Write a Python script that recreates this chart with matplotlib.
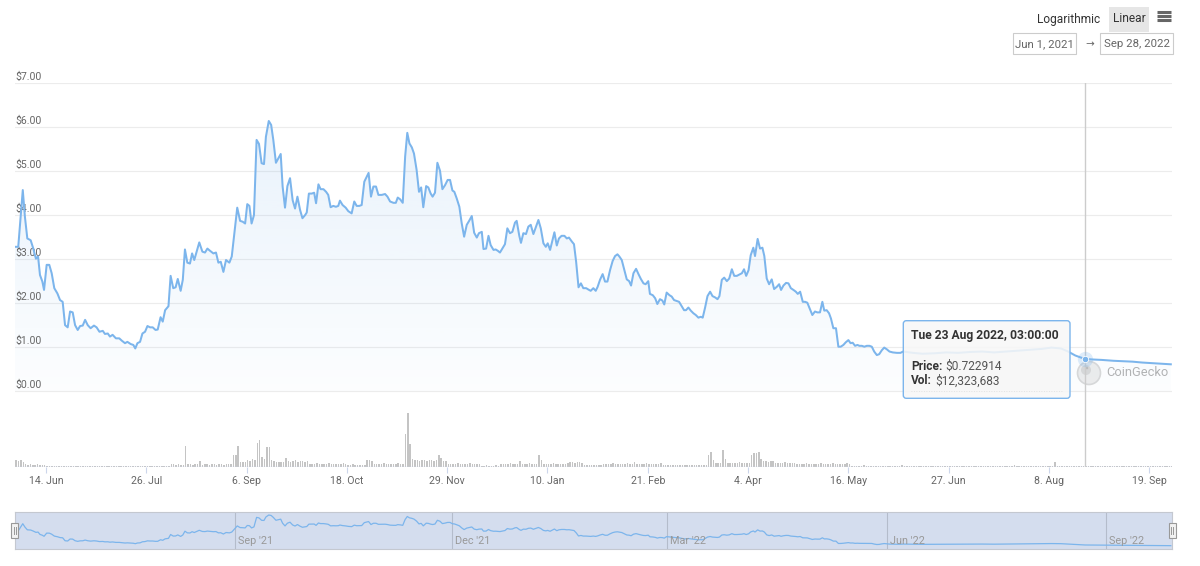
import numpy as np
import pandas as pd
import matplotlib
matplotlib.use("Agg")
import matplotlib.pyplot as plt
import matplotlib.dates as mdates
import matplotlib.transforms as mtransforms
from matplotlib.patches import FancyBboxPatch, Rectangle, Circle, PathPatch

plt.rcParams['font.family'] = ['Roboto', 'DejaVu Sans']
plt.rcParams['text.parse_math'] = False

# ---------------- data ----------------
START = '2021-06-01'
END_DAY = 484.5

price_days = [
    0, 1.4, 3.3, 4.2, 5.2, 6.6, 7.7, 8.8, 9.7, 10.5, 11.5, 12.2, 13.3, 14.4, 15.4, 16.5, 17.8, 18.9, 20.0, 21.0,
    22.1, 23.1, 24.2, 25.2, 26.3, 27.3, 28.4, 29.4, 30.5, 31.7, 33.1, 34.2, 35.4, 36.8, 37.7, 38.9, 39.8, 40.9, 42.3, 43.7,
    44.7, 46.1, 47.1, 48.5, 49.6, 50.4, 51.3, 52.4, 53.4, 54.5, 55.5, 56.6, 57.7, 58.9, 59.8, 61.0, 61.9, 62.9, 64.3, 65.2,
    66.3, 67.3, 68.2, 69.4, 70.3, 71.2, 72.2, 73.3, 74.2, 75.1, 76.1, 77.2, 78.5, 79.6, 80.6, 81.7,
    83.1, 84.2, 85.2, 86.2, 87.3, 88.4, 89.8, 90.8, 91.9, 93.1, 94.3, 95.4, 96.4, 97.3, 98.2, 99.1, 100.1, 101.2, 102.2, 103.3,
    104.3, 105.1, 106.3, 107.3, 108.2, 109.3, 110.3, 111.3, 112.1, 113.1, 114.1, 115.2, 116.3, 117.3, 118.3, 119.4, 120.4, 121.5, 122.2, 123.1,
    124.3, 125.3, 126.1, 127.1, 128.0, 129.2, 130.3, 131.2, 132.2, 133.3, 134.4, 135.4, 136.1, 137.2, 138.5, 139.6, 141.0, 142.1, 143.1, 144.2,
    145.2, 146.3, 147.3, 148.1, 149.1, 150.1, 151.2, 152.2, 153.6, 155.0, 156.0, 157.1, 158.5, 159.5, 160.3, 161.3,
    162.4, 163.4, 164.3, 165.2, 166.2, 167.1, 168.2, 169.2, 170.1, 171.0, 172.2, 173.1, 174.1, 174.9, 175.9, 176.9, 178.0, 179.0, 180.1, 181.2,
    182.2, 183.2, 184.0, 185.0, 186.1, 187.1, 188.1, 189.2, 190.2, 191.3, 192.3, 193.4, 194.3, 195.5, 196.2, 197.3, 198.3, 199.2, 200.4, 201.3,
    202.2, 203.1, 204.1, 205.2, 206.2, 207.3, 208.3, 209.4, 210.1, 211.2, 211.9, 212.9, 214.0, 215.0, 216.0, 217.1, 218.2, 219.2, 220.2, 221.3,
    222.3, 223.1, 224.1, 225.1, 225.9, 226.9, 227.8, 228.9, 230.1, 231.1, 232.0, 233.2, 234.1, 235.0, 236.0, 237.0, 238.0, 239.2, 240.1, 241.1,
    242.2, 243.2, 244.0, 245.0,
    246.1, 247.1, 248.1, 249.2, 250.3, 251.3, 252.3, 253.1, 254.1, 255.1, 256.2, 257.2, 258.0, 259.0, 260.1, 261.1, 262.1, 263.2, 264.1, 265.2,
    265.9, 267.1, 268.1, 269.0, 270.1, 271.1, 271.9, 272.9, 274.1, 275.0, 276.0, 277.1, 278.1, 279.2, 280.2, 281.0, 282.0, 283.0, 284.1, 285.1,
    286.2, 287.2, 288.0, 289.0, 290.0, 291.1, 292.1, 293.2, 294.2, 295.0, 296.0, 297.0, 298.1, 299.1, 300.2, 301.2, 302.3, 303.4, 304.4, 305.3,
    306.2, 307.2, 308.1, 309.2, 309.9, 311.0, 312.0, 313.0, 313.8, 314.8, 315.8, 316.9, 317.9, 319.0, 320.0, 320.8, 321.8, 322.9, 323.9, 324.9,
    326.0, 327.0, 327.8, 328.8,
    329.9, 330.9, 331.8, 332.9, 333.9, 335.0, 336.0, 337.1, 338.1, 338.9, 339.9, 340.9, 341.7, 342.7, 343.8, 344.8, 345.8, 346.9, 347.9, 349.0,
    349.9, 350.8, 351.8, 352.8, 353.6, 354.6, 355.7, 356.7, 357.8, 358.8, 359.8, 360.9, 361.9, 363.0, 364.0, 365.1, 366.2, 367.6, 369.3, 370.8,
    371.9, 376, 380, 385, 390, 395, 400, 405, 410, 415, 420, 425, 430, 434, 438, 441, 444, 446, 448.125, 451,
    455, 460, 464, 468, 472, 478, 484,
]

price_usd = [
    3.27, 3.27, 4.56, 3.95, 3.46, 3.42, 3.23, 3.00, 3.05, 2.63, 2.48, 2.29, 2.86, 2.86, 2.67, 2.33, 2.21, 2.06, 2.02, 1.49,
    1.44, 1.80, 1.78, 1.49, 1.38, 1.47, 1.48, 1.61, 1.49, 1.42, 1.48, 1.44, 1.34, 1.36, 1.29, 1.30, 1.23, 1.27, 1.19, 1.19,
    1.14, 1.08, 1.11, 1.06, 1.04, 0.96, 1.08, 1.11, 1.30, 1.34, 1.47, 1.44, 1.44, 1.38, 1.39, 1.67, 1.57, 1.83, 1.92, 2.61,
    2.33, 2.35, 2.54, 2.27, 2.52, 3.21, 2.91, 2.89, 3.12, 2.97, 3.16, 3.37, 3.16, 3.14, 3.23, 3.18,
    3.12, 3.14, 2.91, 2.93, 2.70, 2.97, 2.91, 3.05, 3.58, 4.16, 3.86, 3.84, 3.80, 4.24, 4.20, 3.80, 3.99, 5.70, 5.61, 5.17,
    5.15, 5.77, 6.13, 6.04, 5.70, 5.18, 5.28, 5.38, 4.64, 4.16, 4.65, 4.83, 4.33, 4.14, 4.41, 4.11, 3.92, 3.99, 4.05, 4.48,
    4.48, 4.50, 4.26, 4.69, 4.58, 4.58, 4.52, 4.45, 4.17, 4.20, 4.18, 4.20, 4.32, 4.22, 4.16, 4.08, 4.03, 4.30, 4.20, 4.20,
    4.22, 4.75, 4.86, 4.95, 4.41, 4.64, 4.64, 4.45, 4.45, 4.47, 4.41, 4.30, 4.27, 4.27, 4.39, 4.35,
    4.27, 5.32, 5.86, 5.62, 5.53, 5.39, 5.02, 4.52, 4.62, 4.17, 4.65, 4.62, 4.48, 4.41, 4.50, 5.18, 5.00, 4.58, 4.67, 4.79,
    4.79, 4.55, 4.52, 4.37, 4.18, 3.80, 3.50, 3.77, 3.86, 3.97, 3.59, 3.48, 3.58, 3.61, 3.22, 3.23, 3.52, 3.31, 3.20, 3.21,
    3.18, 3.14, 3.23, 3.33, 3.69, 3.58, 3.61, 3.82, 3.86, 3.52, 3.36, 3.58, 3.56, 3.73, 3.77, 3.56, 3.73, 3.88, 3.69, 3.35,
    3.27, 3.35, 3.20, 3.42, 3.60, 3.30, 3.46, 3.52, 3.52, 3.46, 3.48, 3.39, 3.33, 2.93, 2.35, 2.44, 2.33, 2.33, 2.30, 2.27,
    2.33, 2.27, 2.36, 2.52,
    2.65, 2.48, 2.48, 2.74, 2.95, 3.06, 3.10, 3.05, 2.97, 2.76, 2.53, 2.49, 2.39, 2.67, 2.77, 2.65, 2.54, 2.44, 2.42, 2.49,
    2.20, 2.17, 2.10, 1.97, 2.08, 2.05, 1.96, 2.23, 2.17, 2.14, 2.06, 2.04, 2.02, 1.92, 1.83, 1.83, 1.89, 1.82, 1.76, 1.72,
    1.66, 1.68, 1.66, 1.89, 2.15, 2.25, 2.15, 2.12, 2.08, 2.15, 2.52, 2.57, 2.49, 2.55, 2.76, 2.61, 2.61, 2.64, 2.67, 2.76,
    2.61, 2.74, 3.08, 3.25, 3.06, 3.45, 3.23, 3.25, 3.06, 2.55, 2.42, 2.53, 2.31, 2.36, 2.42, 2.29, 2.39, 2.45, 2.44, 2.33,
    2.29, 2.25, 2.20, 2.25,
    2.02, 2.02, 2.00, 1.85, 1.72, 1.80, 1.78, 1.78, 2.02, 1.82, 1.83, 1.76, 1.64, 1.42, 1.42, 1.00, 1.00, 1.04, 1.10, 1.15,
    1.08, 1.09, 1.02, 1.04, 1.02, 1.02, 1.00, 1.02, 1.02, 1.00, 0.89, 0.81, 0.83, 0.92, 0.98, 0.94, 0.89, 0.87, 0.86, 0.86,
    0.89, 0.86, 0.84, 0.85, 0.87, 0.86, 0.88, 0.89, 0.87, 0.89, 0.91, 0.93, 0.95, 0.98, 0.96, 0.89, 0.80, 0.76, 0.722914, 0.71,
    0.70, 0.68, 0.67, 0.66, 0.64, 0.62, 0.60,
]

# daily volume (million USD), segments given as (first day, values)
volume_segments = [
    (0, [42, 36, 42, 30, 18, 12, 18, 12, 12, 18, 12, 12, 12, 6]),
    (14, [6, 4, 3, 2, 3, 2, 5, 3, 2, 4, 6, 5, 3, 2, 3, 2, 3, 4, 2, 3, 2, 2, 3, 2, 2, 3, 2, 2, 3, 2,
          3, 2, 2, 3, 2, 2, 3, 2, 3, 2, 2, 3, 2, 3, 4, 3, 2, 3, 4, 5, 6]),
    (65, [18, 15, 12, 18, 12, 12]),
    (71, [126]),
    (72, [18, 15, 12, 18, 15, 36]),
    (78, [12, 15, 18, 12, 15, 18, 12, 18, 15, 12, 18, 15, 18]),
    (91, [72, 72, 126]),
    (94, [30, 30, 30]),
    (97, [42, 36, 48, 42, 144, 162, 60, 48, 120, 120, 42, 36]),
    (109, [30, 30, 30, 30, 54]),
    (114, [36, 30, 36, 42, 30, 36, 36, 30, 36]),
    (123, [18, 15, 18, 21, 18, 15, 18, 18, 21, 15, 18, 18, 15, 18, 21, 18]),
    (139, [12, 12, 15, 12, 12, 9, 12, 12]),
    (147, [42, 42, 36]),
    (150, [18, 15, 18, 18, 21, 15, 18, 18, 15, 18, 21, 18, 15]),
    (163, [198, 324, 138, 48]),
    (167, [42, 42, 36, 42, 42, 36, 42, 42, 36, 42]),
    (177, [72, 54, 36, 36]),
    (181, [18, 18, 15, 18, 21, 18, 15, 18, 18, 21, 15, 18, 18, 15]),
    (195, [6, 6, 9, 6, 6, 6, 9, 6]),
    (203, [18, 15, 18, 18, 21, 18, 15, 18, 36, 18, 15, 18, 21, 18, 15, 18]),
    (219, [72, 42]),
    (221, [18, 15, 18, 18, 21, 15, 18, 18, 15, 18, 21]),
    (232, [30, 30, 24, 30, 30, 24]),
    (238, [12, 12, 9, 12, 12, 9, 12, 12]),
    (246, [18, 15, 18, 18, 21, 15, 18, 18, 15, 18, 21, 18, 15]),
    (259, [30]),
    (260, [18, 15, 18, 18, 21, 15, 18, 18, 15, 18, 21]),
    (271, [12, 12, 9, 12, 12, 9, 12, 12, 12, 9, 12, 12, 9, 12, 12, 9, 12, 12, 12]),
    (290, [72, 90, 42, 24, 24, 24, 102, 48]),
    (298, [24, 24, 21, 24, 24, 27, 24, 21, 24, 24]),
    (308, [72, 84, 84, 90, 48]),
    (313, [36, 36, 30, 36, 36]),
    (318, [24, 24, 21, 24, 27, 24, 21, 24, 24]),
    (327, [18, 15, 18, 18, 21, 15, 18, 18, 15, 18, 21, 18, 15, 18, 18, 21, 15, 18, 18, 15, 18, 21, 18]),
    (350, [6, 5, 6, 4, 6, 8, 5, 6, 4, 6, 5, 6, 7, 5, 4, 6, 5, 6, 4, 5, 6, 8, 6, 5, 4, 6, 5, 6, 4, 6,
           5, 4, 6, 5, 6, 4, 5, 6, 4, 5, 6, 5, 4, 6, 5, 6, 4, 5, 6, 5, 4, 6, 5, 6, 4, 5, 6, 5, 4, 6,
           5, 6, 4, 5, 6, 5, 4, 6, 8, 6, 5, 4, 6, 5, 6, 4, 5, 6, 5, 4, 6, 5, 6, 4, 5]),
    (435, [30]),
    (436, [6, 5, 6, 4, 6, 5, 6, 4, 5, 6, 5]),
    (447, [4, 3, 4, 5, 3, 4, 3, 4, 5, 3, 4, 3, 4, 3, 5, 4, 3, 4, 3, 4,
           5, 3, 4, 3, 4, 3, 4, 5, 3, 4, 3, 4, 3, 4, 5, 3, 4, 3]),
]

y_ticks = [0, 1, 2, 3, 4, 5, 6, 7]
x_tick_first = '2021-06-14'
x_tick_step_days = 42
x_tick_count = 12
nav_month_lines = ['2021-09-01', '2021-12-01', '2022-03-01', '2022-06-01', '2022-09-01']

tooltip_time = '2022-08-23 03:00:00'
tooltip_price = 0.722914
tooltip_vol = 12323683
range_from = 'Jun 1, 2021'
range_to = 'Sep 28, 2022'

# ---------------- figure ----------------
W, H = 1200, 566
fig = plt.figure(figsize=(W / 100, H / 100), dpi=100)


def frac_rect(left, top, right, bottom):
    return [left / W, 1 - bottom / H, (right - left) / W, (bottom - top) / H]


def pixel_overlay(z):
    o = fig.add_axes([0, 0, 1, 1])
    o.set_zorder(z)
    o.set_xlim(0, W)
    o.set_ylim(H, 0)
    o.axis('off')
    o.patch.set_alpha(0)
    return o


start = pd.Timestamp(START)
x0 = mdates.date2num(start)
x1 = x0 + END_DAY
px = mdates.date2num(start + pd.to_timedelta(price_days, unit='D'))
py = np.array(price_usd)

LEFT, RIGHT = 14.9, 1172
TOP, BASE = 82.7, 466.7
rect = frac_rect(LEFT, TOP, RIGHT, BASE)

BLUE = '#7cb5ec'

# volume axes (bottom layer)
vax = fig.add_axes(rect)
vax.set_zorder(1)
vax.patch.set_alpha(0)
vdays, vvals = [], []
for d0, vals in volume_segments:
    for i, v in enumerate(vals):
        vdays.append(d0 + i)
        vvals.append(v)
vx = mdates.date2num(start + pd.to_timedelta(vdays, unit='D')) + 0.5
vax.bar(vx, vvals, width=0.62, color='#c4c4c4', edgecolor='none', zorder=1)
vax.set_xlim(x0, x1)
vax.set_ylim(0, 324 * (BASE - TOP) / 54.0)
for s in vax.spines.values():
    s.set_visible(False)
vax.axhline(0, color='#ccd6eb', lw=1.0, zorder=2)
vax.set_yticks([])
ticks = pd.date_range(x_tick_first, periods=x_tick_count, freq=f'{x_tick_step_days}D')
vax.set_xticks(mdates.date2num(ticks))
vax.set_xticklabels([f"{d.day}. {d:%b}" for d in ticks])
vax.tick_params(axis='x', direction='out', length=4.5, width=0.8, color='#ccd6eb',
                pad=2.5, labelsize=7.6, labelcolor='#666666')

# CoinGecko watermark (behind the series)
wm = pixel_overlay(1.5)
wm.add_patch(Circle((1089, 373), 11.5, facecolor='#ececec', edgecolor='#d6d6d6', lw=1.2, alpha=0.9))
wm.add_patch(Circle((1086, 370), 5, facecolor='#d8d8d8', edgecolor='none'))
wm.add_patch(Circle((1087, 368), 1.3, facecolor='#bdbdbd', edgecolor='none'))
wm.text(1106, 372.5, 'CoinGecko', ha='left', va='center', fontsize=9.3, color='#b3b3b3')

# price axes
ax = fig.add_axes(rect)
ax.set_zorder(2)
ax.set_xlim(x0, x1)
ax.set_ylim(-(BASE - 390.7) / 44.0, 7.0)
for s in ax.spines.values():
    s.set_visible(False)
ax.set_xticks([])
ax.set_yticks([])
ax.patch.set_alpha(0)
for v in y_ticks:
    ax.axhline(v, color='#ececec', lw=0.8, zorder=0)

lab_tr = mtransforms.blended_transform_factory(ax.transAxes, ax.transData)
off = mtransforms.offset_copy(lab_tr, fig=fig, x=0, y=6, units='dots')
for v in y_ticks:
    ax.text(0.0005, v, f"${v:.2f}", transform=off, ha='left', va='center',
            fontsize=7.6, color='#666666', zorder=2)

# gradient area fill
poly = ax.fill_between(px, py, 0, facecolor='none', edgecolor='none')
path = poly.get_paths()[0]
clip = PathPatch(path, transform=ax.transData, facecolor='none', edgecolor='none')
ax.add_patch(clip)
n = 256
grad = np.zeros((n, 1, 4))
grad[..., 0] = 124 / 255
grad[..., 1] = 181 / 255
grad[..., 2] = 236 / 255
grad[..., 3] = np.linspace(0.17, 0.02, n).reshape(-1, 1)
im = ax.imshow(grad, extent=[x0, x1, 0, max(price_usd)], aspect='auto', origin='upper', zorder=1,
               interpolation='bilinear')
im.set_clip_path(clip)
ax.set_xlim(x0, x1)
ax.set_ylim(-(BASE - 390.7) / 44.0, 7.0)

ax.plot(px, py, color=BLUE, lw=1.45, zorder=3, solid_joinstyle='round')

# crosshair
tt = pd.Timestamp(tooltip_time)
xc = mdates.date2num(tt)
ax.axvline(xc, color='#cccccc', lw=1.0, zorder=2.5)
ax.plot([xc], [tooltip_price], 'o', ms=11, color=BLUE, alpha=0.25, mec='none', zorder=4)
ax.plot([xc], [tooltip_price], 'o', ms=4.6, color=BLUE, mec='white', mew=0.6, zorder=5)

# navigator
NAV_TOP, NAV_BOT = 512, 549
nav = fig.add_axes(frac_rect(LEFT, NAV_TOP, RIGHT, NAV_BOT))
nav.set_zorder(2)
nav.set_xlim(x0, x1)
nav.set_ylim(0, 6.67)
nav.set_facecolor((102 / 255, 133 / 255, 194 / 255, 0.28))
for s in nav.spines.values():
    s.set_color('#c4c8d0')
    s.set_linewidth(0.8)
nav.set_xticks([])
nav.set_yticks([])
for m in nav_month_lines:
    mx = mdates.date2num(pd.Timestamp(m))
    nav.axvline(mx, color='#b4bccb', lw=0.8, zorder=1)
    nav.annotate(pd.Timestamp(m).strftime("%b '%y"), xy=(mx, 0), xycoords=('data', 'axes fraction'),
                 xytext=(3, 2.5), textcoords='offset pixels', ha='left', va='bottom',
                 fontsize=7.8, color='#999999')
nav.plot(px, py, color=BLUE, lw=0.9, zorder=2)

# overlay in pixel coordinates for UI elements (top layer)
ov = pixel_overlay(10)

# navigator handles
for hx in (LEFT, RIGHT):
    ov.add_patch(Rectangle((hx - 3.5, 523), 7, 15, facecolor='#f2f2f2', edgecolor='#999999', lw=0.8))
    ov.plot([hx - 1, hx - 1], [527, 534], color='#999999', lw=0.7)
    ov.plot([hx + 1, hx + 1], [527, 534], color='#999999', lw=0.7)

# top-right controls
ov.text(1037, 19, 'Logarithmic', ha='left', va='center', fontsize=8.6, color='#333333')
ov.add_patch(Rectangle((1108.7, 6.7), 40.6, 25, facecolor='#e6e6e6', edgecolor='none'))
ov.text(1129, 19, 'Linear', ha='center', va='center', fontsize=8.6, color='#333333')
for yy in (11.8, 16.0, 20.2):
    ov.plot([1157, 1171], [yy, yy], color='#666666', lw=2.2, solid_capstyle='butt')
ov.add_patch(Rectangle((1013.3, 33.3), 62.7, 20.7, facecolor='none', edgecolor='#cccccc', lw=0.8))
ov.text(1044.6, 44, range_from, ha='center', va='center', fontsize=8.2, color='#666666')
ov.text(1090, 44, '\u2192', ha='center', va='center', fontsize=7.5, color='#666666')
ov.add_patch(Rectangle((1100, 33.3), 73.3, 20.7, facecolor='none', edgecolor='#cccccc', lw=0.8))
ov.text(1136.6, 44, range_to, ha='center', va='center', fontsize=8.2, color='#666666')

# tooltip
ov.add_patch(FancyBboxPatch((903.3, 320.7), 166.7, 77.6,
                            boxstyle='round,pad=0,rounding_size=3',
                            facecolor=(0.97, 0.97, 0.97, 0.87), edgecolor=BLUE, lw=1.0))
ov.text(911, 336, tt.strftime('%a %d %b %Y, %H:%M:%S'), ha='left', va='center',
        fontsize=8.7, fontweight='bold', color='#333333')
t1 = ov.text(911, 366, 'Price:', ha='left', va='center', fontsize=8.6, fontweight='bold', color='#333333')
ov.annotate(f"${tooltip_price}", xy=(1, 0.5), xycoords=t1, xytext=(3, 0), textcoords='offset pixels',
            ha='left', va='center', fontsize=8.6, color='#555555')
t2 = ov.text(911, 381, 'Vol:', ha='left', va='center', fontsize=8.6, fontweight='bold', color='#333333')
ov.annotate(f"${tooltip_vol:,}", xy=(1, 0.5), xycoords=t2, xytext=(3, 0), textcoords='offset pixels',
            ha='left', va='center', fontsize=8.6, color='#555555')
ov.plot([911, 1062], [391, 391], color='#dddddd', lw=0.6, ls=(0, (1, 2)))

fig.savefig('out.png', dpi=100)
